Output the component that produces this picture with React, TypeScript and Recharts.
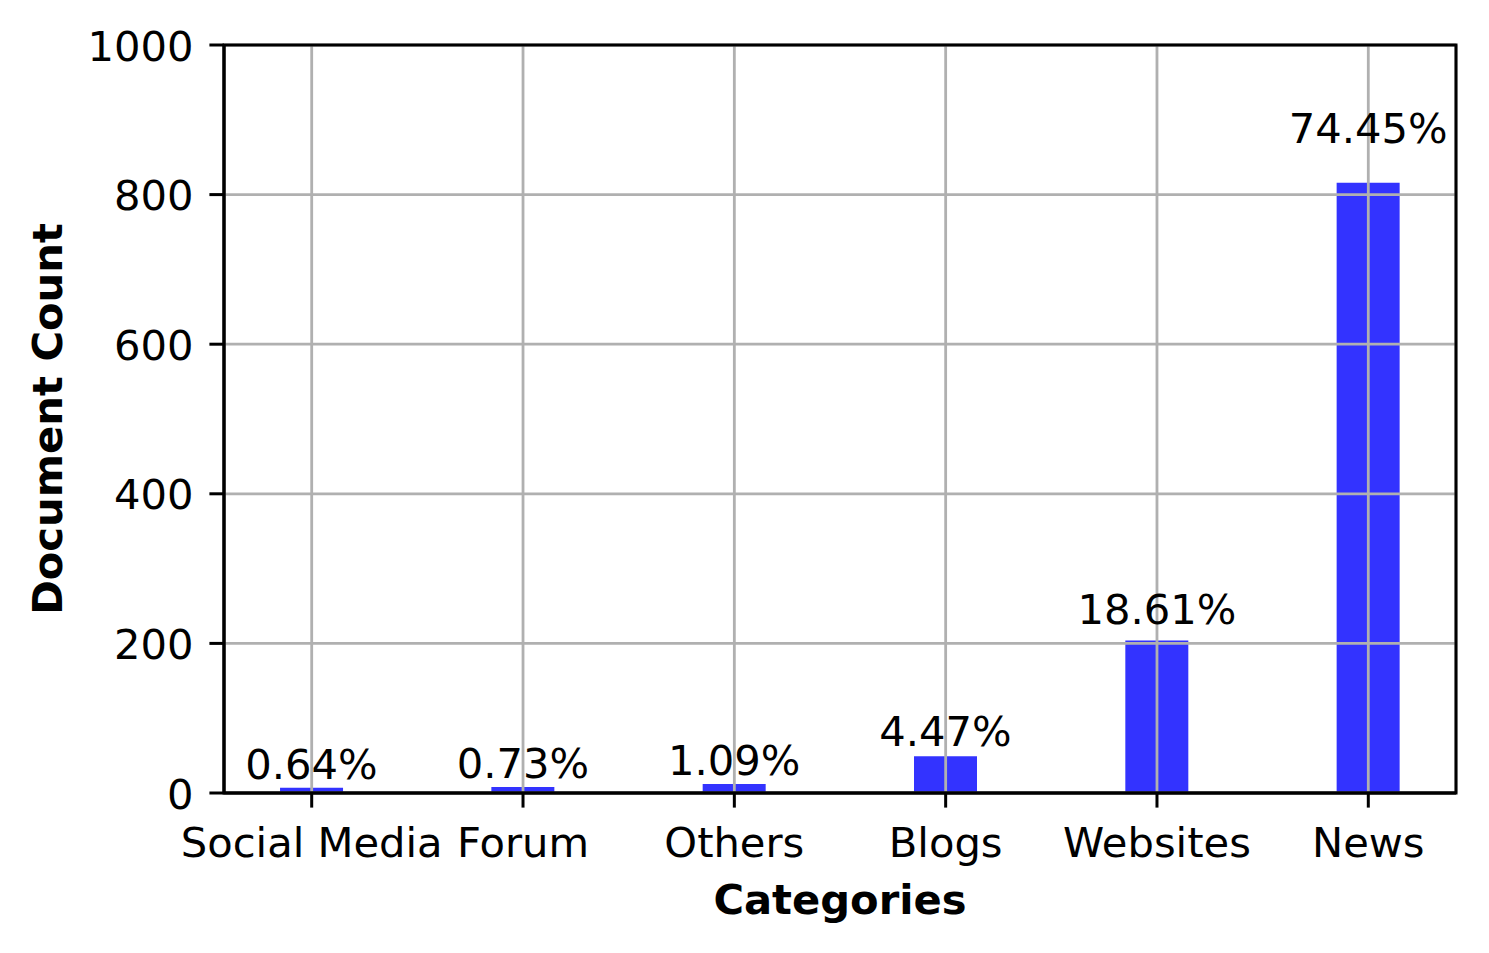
import React from 'react';
import { BarChart, Bar, XAxis, YAxis, CartesianGrid, LabelList, ReferenceArea } from 'recharts';

const categories = ['Social Media', 'Forum', 'Others', 'Blogs', 'Websites', 'News'];
const counts = [7, 8, 12, 49, 204, 816];
const percentLabels = ['0.64%', '0.73%', '1.09%', '4.47%', '18.61%', '74.45%'];
const yTicks = [0, 200, 400, 600, 800, 1000];
const xTicks = [0, 1, 2, 3, 4, 5];
const xDomain: [number, number] = [-0.415, 5.415];
const yDomain: [number, number] = [0, 1000];

const data = categories.map((c, i) => ({ idx: i, name: c, count: counts[i], pct: percentLabels[i] }));

const FONT = 'DejaVu Sans';
const FS = 41.67;
const GRID = '#b0b0b0';

const XTick = (props: any) => {
  const { x, y, payload } = props;
  return (
    <text x={x} y={y} dy={49} textAnchor="middle" fontFamily={FONT} fontSize={FS} fill="#000">
      {categories[payload.value]}
    </text>
  );
};

const YTick = (props: any) => {
  const { x, y, payload } = props;
  return (
    <text x={x} y={y} dx={-16} dy={15.5} textAnchor="end" fontFamily={FONT} fontSize={FS} fill="#000">
      {payload.value}
    </text>
  );
};

const BarLabel = (props: any) => {
  const { x, y, width, height, value, index } = props;
  const c = counts[index];
  const ppu = c > 0 ? height / c : 0;
  const by = y + height - (c * 1.05 + 12) * ppu;
  return (
    <text x={x + width / 2} y={by} textAnchor="middle" fontFamily={FONT} fontSize={FS} fill="#000">
      {value}
    </text>
  );
};

const YLabel = (props: any) => {
  const vb = props.viewBox || {};
  const cx = (vb.x || 0) + 47;
  const cy = (vb.y || 0) + (vb.height || 0) / 2;
  return (
    <text
      x={cx}
      y={cy}
      transform={`rotate(-90, ${cx}, ${cy})`}
      textAnchor="middle"
      dominantBaseline="central"
      fontFamily={FONT}
      fontWeight="bold"
      fontSize={FS}
      fill="#000"
    >
      Document Count
    </text>
  );
};

const XLabel = (props: any) => {
  const vb = props.viewBox || {};
  const cx = (vb.x || 0) + (vb.width || 0) / 2;
  const by = (vb.y || 0) + 121;
  return (
    <text x={cx} y={by} textAnchor="middle" fontFamily={FONT} fontWeight="bold" fontSize={FS} fill="#000">
      Categories
    </text>
  );
};

export default function App() {
  return (
    <div style={{ position: 'absolute', left: 0, top: 0, width: 1489, height: 953, background: '#fff' }}>
      <BarChart width={1489} height={953} data={data} margin={{ top: 45, right: 33, left: 0, bottom: 0 }}>
        <XAxis
          dataKey="idx"
          type="number"
          domain={xDomain}
          ticks={xTicks}
          interval={0}
          allowDataOverflow
          height={160}
          tick={<XTick />}
          tickSize={14.6}
          tickMargin={0}
          axisLine={{ stroke: '#000', strokeWidth: 3 }}
          tickLine={{ stroke: '#000', strokeWidth: 3 }}
          label={<XLabel />}
          zIndex={600}
        />
        <YAxis
          type="number"
          domain={yDomain}
          ticks={yTicks}
          interval={0}
          allowDataOverflow
          width={224}
          tick={<YTick />}
          tickSize={14.6}
          tickMargin={0}
          axisLine={{ stroke: '#000', strokeWidth: 3 }}
          tickLine={{ stroke: '#000', strokeWidth: 3 }}
          label={<YLabel />}
          zIndex={600}
        />
        <Bar dataKey="count" fill="#3333ff" barSize={63} isAnimationActive={false}>
          <LabelList dataKey="pct" content={<BarLabel />} />
        </Bar>
        <CartesianGrid stroke={GRID} strokeWidth={2.8} zIndex={350} />
        <ReferenceArea
          x1={xDomain[0]}
          x2={xDomain[1]}
          y1={yDomain[0]}
          y2={yDomain[1]}
          fill="none"
          fillOpacity={0}
          stroke="#000"
          strokeWidth={3}
          strokeOpacity={1}
          zIndex={650}
          ifOverflow="visible"
        />
      </BarChart>
    </div>
  );
}
